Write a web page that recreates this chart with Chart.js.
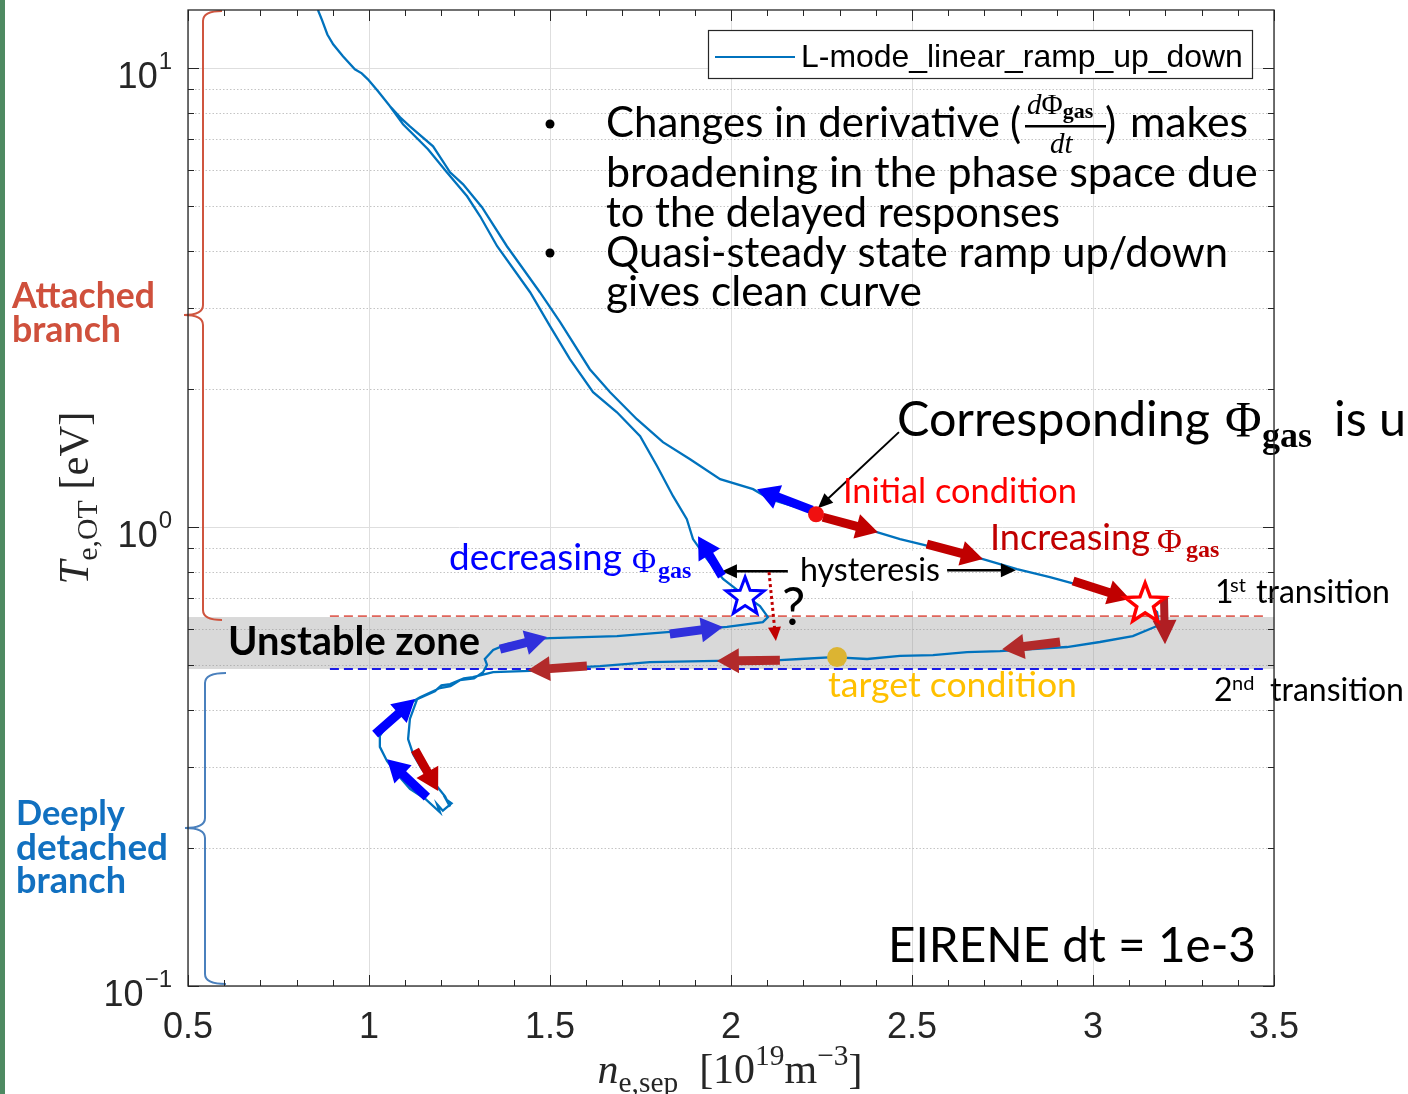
<!DOCTYPE html>
<html>
<head>
<meta charset="utf-8">
<title>Te,OT vs ne,sep hysteresis</title>
<script src="https://cdn.jsdelivr.net/npm/chart.js@4.4.1/dist/chart.umd.min.js"></script>
<style>
  html, body { margin: 0; padding: 0; background: #ffffff; }
  #wrap { width: 1408px; height: 1094px; position: relative; }
</style>
</head>
<body>
<div id="wrap"><canvas id="c" width="1408" height="1094"></canvas></div>
<script>
// ---- trajectory in (n_e,sep [1e19 m^-3], T_e,OT [eV]), in time order, split by branch ----
const seriesName = 'L-mode_linear_ramp_up_down';

// attached branch coming down from high temperature to the initial condition
const descentNe = [0.859, 0.870, 0.885, 0.901, 0.928, 0.961, 0.980, 0.997, 1.025, 1.058, 1.086, 1.113, 1.177, 1.224, 1.260,
                   1.312, 1.381, 1.472, 1.528, 1.610, 1.666, 1.740, 1.812, 1.887, 1.970, 2.061, 2.108, 2.199];
const descentTe = [13.4, 12.75, 11.85, 11.28, 10.62, 9.95, 9.75, 9.463, 8.913, 8.264, 7.819, 7.475, 6.763, 5.935, 5.587,
                   4.980, 4.095, 3.251, 2.797, 2.209, 1.968, 1.719, 1.532, 1.406, 1.272, 1.210, 1.151, 1.094];

// increasing gas puff: initial condition to the 1st transition
const rampUpNe = [2.235, 2.329, 2.403, 2.467, 2.558, 2.696, 2.790, 2.881, 2.972, 3.066, 3.110, 3.157, 3.177, 3.180, 3.177];
const rampUpTe = [1.067, 1.015, 0.975, 0.942, 0.905, 0.852, 0.810, 0.778, 0.744, 0.715, 0.697, 0.673, 0.653, 0.631, 0.609];

// lower edge of the unstable zone, moving to lower density
const lowerNe = [3.110, 3.019, 2.928, 2.834, 2.743, 2.652, 2.558, 2.467, 2.376, 2.282, 2.191, 2.135, 1.961, 1.776, 1.638, 1.500, 1.445, 1.343];
const lowerTe = [0.579, 0.562, 0.548, 0.542, 0.537, 0.534, 0.526, 0.524, 0.516, 0.521, 0.516, 0.513, 0.511, 0.508, 0.498, 0.491, 0.486, 0.483];

// deeply detached loop
const detachedNe = [1.287, 1.262, 1.224, 1.200, 1.182, 1.133, 1.113, 1.108, 1.122, 1.146, 1.182, 1.210, 1.224, 1.213,
                    1.228, 1.204, 1.188, 1.196, 1.155, 1.113, 1.077, 1.050, 1.030, 1.030, 1.058, 1.094, 1.141, 1.196,
                    1.225, 1.251, 1.290, 1.315, 1.326, 1.320];
const detachedTe = [0.471, 0.468, 0.455, 0.452, 0.439, 0.422, 0.382, 0.345, 0.320, 0.297, 0.276, 0.259, 0.246, 0.255,
                    0.250, 0.241, 0.249, 0.239, 0.256, 0.269, 0.290, 0.309, 0.332, 0.351, 0.378, 0.405, 0.426, 0.446,
                    0.450, 0.464, 0.468, 0.483, 0.501, 0.516];

// upper edge of the unstable zone, moving to higher density
const upperNe = [1.343, 1.381, 1.453, 1.500, 1.685, 1.867, 1.989, 2.088, 2.102];
const upperTe = [0.540, 0.556, 0.570, 0.573, 0.579, 0.594, 0.606, 0.621, 0.637];

// decreasing gas puff: back up the attached branch
const returnNe = [2.080, 2.025, 1.978, 1.934, 1.895, 1.878, 1.840, 1.796, 1.749, 1.685, 1.619, 1.555, 1.500,
                  1.445, 1.354, 1.307, 1.271, 1.215, 1.163, 1.094, 1.058];
const returnTe = [0.673, 0.722, 0.771, 0.852, 0.942, 1.041, 1.168, 1.358, 1.579, 1.780, 1.968, 2.323, 2.742,
                  3.251, 4.095, 4.760, 5.262, 5.935, 6.662, 7.551, 8.264];

// axes
const xTickLabels = ['0.5', '1', '1.5', '2', '2.5', '3', '3.5'];
const yDecades = [0.1, 1, 10];
const yDecadeExponents = ['\u22121', '0', '1'];
const yTickValues = [0.1, 0.2, 0.3, 0.4, 0.5, 0.6, 0.7, 0.8, 0.9, 1, 2, 3, 4, 5, 6, 7, 8, 9, 10];

// markers on the trajectory
const initialCondition = [2.235, 1.067];
const targetCondition = [2.293, 0.521];
const firstTransitionStar = [3.144, 0.680];
const returnStar = [2.039, 0.704];
const firstTransitionTe = 0.640;
const secondTransitionTe = 0.4907;
const unstableZone = [0.4907, 0.637];

// ---- build the single series ----
const segments = [[descentNe, descentTe], [rampUpNe, rampUpTe], [lowerNe, lowerTe],
                  [detachedNe, detachedTe], [upperNe, upperTe], [returnNe, returnTe]];
const points = [];
segments.forEach(([xs, ys]) => xs.forEach((v, i) => points.push({ x: v, y: ys[i] })));

const SANS = '"Lato", "Open Sans", sans-serif';
const HELV = '"Liberation Sans", Arial, sans-serif';
const SERIF = '"Liberation Serif", "DejaVu Serif", serif';
const AXIS_COLOR = '#262626';

function isDecade(v) { return Math.abs(Math.log10(v) - Math.round(Math.log10(v))) < 1e-9; }

function setFont(c, size, family, weight, style) {
  c.font = `${style || 'normal'} ${weight || 400} ${size}px ${family}`;
}
// text fitted to a horizontal extent
function fitText(c, text, x, y, width, family, weight, color) {
  setFont(c, 100, family, weight);
  const size = 100 * width / c.measureText(text).width;
  setFont(c, size, family, weight);
  c.fillStyle = color; c.textAlign = 'left'; c.textBaseline = 'alphabetic';
  c.fillText(text, x, y);
  return size;
}
function text(c, t, x, y, size, family, weight, color, style, align) {
  setFont(c, size, family, weight, style);
  c.fillStyle = color; c.textAlign = align || 'left'; c.textBaseline = 'alphabetic';
  c.fillText(t, x, y);
}
// runs of text with sub/superscripts
function runsWidth(c, runs) {
  let w = 0;
  runs.forEach(r => { setFont(c, r.size, r.family, r.weight, r.style); w += c.measureText(r.t).width; });
  return w;
}
function drawRuns(c, runs, x, y, color) {
  let cx = x;
  c.textAlign = 'left'; c.textBaseline = 'alphabetic'; c.fillStyle = color;
  runs.forEach(r => {
    setFont(c, r.size, r.family, r.weight, r.style);
    c.fillText(r.t, cx, y + (r.dy || 0));
    cx += c.measureText(r.t).width;
  });
}
function blockArrow(c, p0, p1, color, sw, hw, hl) {
  sw = sw || 9; hw = hw || 25; hl = hl || 22;
  const dx = p1[0] - p0[0], dy = p1[1] - p0[1], L = Math.hypot(dx, dy);
  const ux = dx / L, uy = dy / L, nx = -uy, ny = ux;
  const bx = p1[0] - ux * hl, by = p1[1] - uy * hl;
  c.beginPath();
  c.moveTo(p0[0] + nx * sw / 2, p0[1] + ny * sw / 2);
  c.lineTo(bx + nx * sw / 2, by + ny * sw / 2);
  c.lineTo(bx + nx * hw / 2, by + ny * hw / 2);
  c.lineTo(p1[0], p1[1]);
  c.lineTo(bx - nx * hw / 2, by - ny * hw / 2);
  c.lineTo(bx - nx * sw / 2, by - ny * sw / 2);
  c.lineTo(p0[0] - nx * sw / 2, p0[1] - ny * sw / 2);
  c.closePath();
  c.fillStyle = color; c.fill();
}
function lineArrow(c, p0, p1, color, lw, hl, hw, dash) {
  const dx = p1[0] - p0[0], dy = p1[1] - p0[1], L = Math.hypot(dx, dy);
  const ux = dx / L, uy = dy / L, nx = -uy, ny = ux;
  const bx = p1[0] - ux * hl, by = p1[1] - uy * hl;
  c.save();
  c.strokeStyle = color; c.lineWidth = lw; c.setLineDash(dash || []);
  c.beginPath(); c.moveTo(p0[0], p0[1]); c.lineTo(bx + ux * 2, by + uy * 2); c.stroke();
  c.restore();
  c.beginPath();
  c.moveTo(p1[0], p1[1]);
  c.lineTo(bx + nx * hw / 2, by + ny * hw / 2);
  c.lineTo(bx - nx * hw / 2, by - ny * hw / 2);
  c.closePath(); c.fillStyle = color; c.fill();
}
function star(c, cx, cy, R, stroke, lw) {
  c.beginPath();
  for (let i = 0; i < 10; i++) {
    const a = -Math.PI / 2 + i * Math.PI / 5;
    const rad = i % 2 ? R * 0.42 : R;
    c.lineTo(cx + rad * Math.cos(a), cy + rad * Math.sin(a));
  }
  c.closePath();
  c.fillStyle = '#ffffff'; c.fill();
  c.strokeStyle = stroke; c.lineWidth = lw; c.lineJoin = 'miter'; c.stroke();
}
function brace(c, xe, xv, xTip, yTop, yMid, yBot, color) {
  const r = 10;
  c.beginPath();
  c.moveTo(xe, yTop);
  c.quadraticCurveTo(xv, yTop, xv, yTop + r);
  c.lineTo(xv, yMid - r);
  c.quadraticCurveTo(xv, yMid, xTip, yMid);
  c.quadraticCurveTo(xv, yMid, xv, yMid + r);
  c.lineTo(xv, yBot - r);
  c.quadraticCurveTo(xv, yBot, xe, yBot);
  c.strokeStyle = color; c.lineWidth = 2; c.stroke();
}

const plotNotes = {
  id: 'plotNotes',
  beforeDraw(chart) {
    const c = chart.ctx;
    c.save();
    c.fillStyle = '#ffffff'; c.fillRect(0, 0, chart.width, chart.height);
    c.fillStyle = '#4e8a62'; c.fillRect(0, 0, 5, chart.height);
    c.restore();
  },
  beforeDatasetsDraw(chart) {
    const c = chart.ctx, a = chart.chartArea, xs = chart.scales.x, ys = chart.scales.y;
    c.save();
    // dotted minor grid on the log axis
    c.strokeStyle = '#c4c4c4'; c.lineWidth = 1; c.setLineDash([1.5, 2]);
    ys.ticks.forEach(t => {
      if (isDecade(t.value)) return;
      const y = Math.round(ys.getPixelForValue(t.value)) + 0.5;
      c.beginPath(); c.moveTo(a.left, y); c.lineTo(a.right, y); c.stroke();
    });
    c.setLineDash([]);
    // unstable zone
    const yb0 = ys.getPixelForValue(unstableZone[0]), yb1 = ys.getPixelForValue(unstableZone[1]);
    c.fillStyle = 'rgba(150,150,150,0.36)';
    c.fillRect(a.left, yb1, a.right - a.left, yb0 - yb1);
    // transition thresholds
    const xl = xs.getPixelForValue(0.892), xr = xs.getPixelForValue(3.47);
    c.lineWidth = 1.6; c.setLineDash([9, 5]);
    c.strokeStyle = '#e0645a';
    let y = ys.getPixelForValue(firstTransitionTe);
    c.beginPath(); c.moveTo(xl, y); c.lineTo(xr, y); c.stroke();
    c.strokeStyle = '#1a1ae6'; c.lineWidth = 2;
    y = ys.getPixelForValue(secondTransitionTe);
    c.beginPath(); c.moveTo(xl, y); c.lineTo(xr, y); c.stroke();
    c.restore();
  },
  afterDatasetsDraw(chart) {
    const c = chart.ctx, a = chart.chartArea, xs = chart.scales.x, ys = chart.scales.y;
    const P = (x, y) => [xs.getPixelForValue(x), ys.getPixelForValue(y)];
    c.save();

    // legend
    c.fillStyle = '#ffffff'; c.fillRect(708, 30, 544, 48);
    c.strokeStyle = AXIS_COLOR; c.lineWidth = 1.2; c.strokeRect(708.5, 30.5, 544, 48);
    const ds = chart.data.datasets[0];
    c.strokeStyle = ds.borderColor; c.lineWidth = 2;
    c.beginPath(); c.moveTo(715, 57); c.lineTo(795, 57); c.stroke();
    fitText(c, ds.label, 801, 67, 442, HELV, 400, '#000000');

    // bullet notes
    c.fillStyle = '#000';
    [[550, 124], [550, 253]].forEach(([bx, by]) => { c.beginPath(); c.arc(bx, by, 4.5, 0, 2 * Math.PI); c.fill(); });
    fitText(c, 'Changes in derivative', 606, 137, 394, SANS, 400, '#000');
    text(c, '(', 1010, 138, 42, SANS, 400, '#000');
    text(c, ')', 1105, 138, 42, SANS, 400, '#000');
    fitText(c, 'makes', 1130, 137, 118, SANS, 400, '#000');
    // d(Phi_gas)/dt
    drawRuns(c, [
      { t: 'd', size: 29, family: SERIF, style: 'italic' },
      { t: '\u03A6', size: 29, family: SERIF },
      { t: 'gas', size: 22, family: SERIF, weight: 700, dy: 4 }
    ], 1027, 114, '#000');
    c.fillRect(1025, 125, 81, 2.5);
    drawRuns(c, [{ t: 'dt', size: 29, family: SERIF, style: 'italic' }], 1050, 153, '#000');
    fitText(c, 'broadening in the phase space due', 606, 187, 652, SANS, 400, '#000');
    fitText(c, 'to the delayed responses', 606, 227, 454, SANS, 400, '#000');
    fitText(c, 'Quasi-steady state ramp up/down', 606, 267, 622, SANS, 400, '#000');
    fitText(c, 'gives clean curve', 606, 306, 316, SANS, 400, '#000');

    // hysteresis label and arrows
    c.fillStyle = '#ffffff'; c.fillRect(790, 551, 156, 40);
    fitText(c, 'hysteresis', 800, 581, 140, SANS, 400, '#000');
    lineArrow(c, P(2.157, 0.802), P(1.975, 0.802), '#000', 2.5, 15, 14);
    lineArrow(c, P(2.597, 0.806), P(2.787, 0.806), '#000', 2.5, 15, 14);
    // uncertain drop from the return branch
    lineArrow(c, P(2.105, 0.798), P(2.124, 0.5647), '#c00000', 3, 14, 13, [3, 3]);
    text(c, '?', 782, 625, 52, SANS, 400, '#000');

    // pointer from the note to the initial condition
    lineArrow(c, P(2.464, 1.611), P(2.240, 1.100), '#000', 2, 15, 13);

    // direction arrows along the trajectory
    const DEC = '#0000ff', DEC2 = '#3030dc', INC = '#c00000', INC2 = '#b22a2a';
    blockArrow(c, P(2.224, 1.089), P(2.072, 1.210), DEC);
    blockArrow(c, P(2.254, 1.051), P(2.406, 0.975), INC);
    blockArrow(c, P(2.541, 0.918), P(2.696, 0.852), INC);
    blockArrow(c, P(2.945, 0.763), P(3.102, 0.697), INC);
    blockArrow(c, P(3.196, 0.708), P(3.199, 0.556), '#b01e23', 8, 24, 24);
    blockArrow(c, P(2.909, 0.562), P(2.749, 0.542), INC2);
    blockArrow(c, P(2.135, 0.513), P(1.961, 0.511), INC2);
    blockArrow(c, P(1.602, 0.498), P(1.439, 0.488), INC2);
    blockArrow(c, P(1.362, 0.542), P(1.492, 0.576), DEC2);
    blockArrow(c, P(1.831, 0.585), P(1.978, 0.606), DEC2);
    blockArrow(c, P(1.975, 0.782), P(1.909, 0.956), DEC);
    blockArrow(c, P(1.017, 0.354), P(1.127, 0.422), DEC);
    blockArrow(c, P(1.160, 0.258), P(1.050, 0.312), DEC);
    blockArrow(c, P(1.127, 0.327), P(1.191, 0.266), INC);

    // markers
    let p = P(initialCondition[0], initialCondition[1]);
    c.fillStyle = '#f01010'; c.beginPath(); c.arc(p[0], p[1], 8, 0, 2 * Math.PI); c.fill();
    p = P(targetCondition[0], targetCondition[1]);
    c.fillStyle = '#dcb432'; c.beginPath(); c.arc(p[0], p[1], 10, 0, 2 * Math.PI); c.fill();
    p = P(returnStar[0], returnStar[1]); star(c, p[0], p[1], 20, '#0000ff', 3);
    p = P(firstTransitionStar[0], firstTransitionStar[1]); star(c, p[0], p[1], 21, '#ff0000', 3.5);

    // annotations
    const cs = fitText(c, 'Corresponding', 897, 436, 313, SANS, 400, '#000');
    text(c, '\u03A6', 1225, 436, 50, SERIF, 400, '#000');
    text(c, 'gas', 1262, 447, 36, SERIF, 700, '#000');
    text(c, 'is u', 1334, 436, cs, SANS, 400, '#000');

    fitText(c, 'Initial condition', 843, 503, 234, SANS, 400, '#ff0000');
    fitText(c, 'Increasing', 990, 550, 160, SANS, 400, '#c00000');
    text(c, '\u03A6', 1157, 552, 34, SERIF, 400, '#c00000');
    text(c, 'gas', 1186, 557, 24, SERIF, 700, '#c00000');
    fitText(c, 'decreasing', 449, 570, 173, SANS, 400, '#0000ff');
    text(c, '\u03A6', 632, 572, 33, SERIF, 400, '#0000ff');
    text(c, 'gas', 658, 578, 24, SERIF, 700, '#0000ff');
    fitText(c, 'target condition', 828, 697, 249, SANS, 400, '#ffc000');
    fitText(c, 'Unstable zone', 228, 655, 252, SANS, 700, '#000');
    fitText(c, 'EIRENE dt = 1e-3', 888, 962, 368, SANS, 400, '#000');

    text(c, '1', 1215, 603, 32, SANS, 400, '#000');
    text(c, 'st', 1230, 592, 20, SANS, 400, '#000');
    fitText(c, 'transition', 1256, 603, 134, SANS, 400, '#000');
    text(c, '2', 1214, 701, 32, SANS, 400, '#000');
    text(c, 'nd', 1232, 690, 20, SANS, 400, '#000');
    fitText(c, 'transition', 1270, 701, 134, SANS, 400, '#000');

    // branch braces and labels
    brace(c, 222, 203, 184, 11, 315, 620, '#cf553f');
    brace(c, 226, 205, 185, 673, 828, 984, '#4a80bd');
    fitText(c, 'Attached', 12, 308, 143, SANS, 700, '#cf503c');
    fitText(c, 'branch', 12, 342, 109, SANS, 700, '#cf503c');
    fitText(c, 'Deeply', 16, 825, 109, SANS, 700, '#1170c0');
    fitText(c, 'detached', 16, 860, 152, SANS, 700, '#1170c0');
    fitText(c, 'branch', 16, 893, 110, SANS, 700, '#1170c0');

    // axes box and inward ticks
    c.strokeStyle = AXIS_COLOR; c.lineWidth = 1;
    const xt = xs.ticks.map(t => t.value);
    const xMinor = [];
    for (let i = 0; i < xt.length - 1; i++) for (let k = 1; k < 5; k++) xMinor.push(xt[i] + (xt[i + 1] - xt[i]) * k / 5);
    const tick = (x0, y0, x1, y1) => { c.beginPath(); c.moveTo(x0, y0); c.lineTo(x1, y1); c.stroke(); };
    xt.forEach(v => { const x = Math.round(xs.getPixelForValue(v)) + 0.5; tick(x, a.bottom, x, a.bottom - 11); tick(x, a.top, x, a.top + 11); });
    xMinor.forEach(v => { const x = Math.round(xs.getPixelForValue(v)) + 0.5; tick(x, a.bottom, x, a.bottom - 6); tick(x, a.top, x, a.top + 6); });
    ys.ticks.forEach(t => {
      const y = Math.round(ys.getPixelForValue(t.value)) + 0.5, L = isDecade(t.value) ? 11 : 6;
      tick(a.left, y, a.left + L, y); tick(a.right, y, a.right - L, y);
    });
    c.lineWidth = 1.3;
    c.strokeRect(a.left, a.top, a.right - a.left, a.bottom - a.top);

    // decade labels on the log axis
    yDecades.forEach((v, i) => {
      const y = ys.getPixelForValue(v);
      setFont(c, 24, HELV); const ew = c.measureText(yDecadeExponents[i]).width;
      text(c, yDecadeExponents[i], 172, y + 1, 24, HELV, 400, AXIS_COLOR, 'normal', 'right');
      text(c, '10', 172 - ew - 1, y + 20, 36, HELV, 400, AXIS_COLOR, 'normal', 'right');
    });

    // axis titles
    const xRuns = [
      { t: 'n', size: 1, family: SERIF, style: 'italic' },
      { t: 'e,sep', size: 0.7, family: SERIF, dy: 0.22 },
      { t: '  [10', size: 1, family: SERIF },
      { t: '19', size: 0.7, family: SERIF, dy: -0.42 },
      { t: 'm', size: 1, family: SERIF },
      { t: '\u22123', size: 0.7, family: SERIF, dy: -0.42 },
      { t: ']', size: 1, family: SERIF }
    ];
    const scaleRuns = (runs, base) => runs.map(r => Object.assign({}, r, { size: r.size * base, dy: (r.dy || 0) * base }));
    let base = 100 * 265 / runsWidth(c, scaleRuns(xRuns, 100));
    let rs = scaleRuns(xRuns, base);
    drawRuns(c, rs, 730 - runsWidth(c, rs) / 2, 1083, AXIS_COLOR);

    const yRuns = [
      { t: 'T', size: 1, family: SERIF, style: 'italic' },
      { t: 'e,OT', size: 0.7, family: SERIF, dy: 0.22 },
      { t: ' [eV]', size: 1, family: SERIF }
    ];
    base = 100 * 173 / runsWidth(c, scaleRuns(yRuns, 100));
    rs = scaleRuns(yRuns, base);
    c.translate(88, 498); c.rotate(-Math.PI / 2);
    drawRuns(c, rs, -runsWidth(c, rs) / 2, 0, AXIS_COLOR);
    c.restore();
  }
};

new Chart(document.getElementById('c'), {
  type: 'scatter',
  data: {
    datasets: [{
      label: seriesName,
      data: points,
      showLine: true,
      borderColor: '#0072BD',
      borderWidth: 2.3,
      pointRadius: 0,
      pointHoverRadius: 0,
      tension: 0,
      fill: false
    }]
  },
  options: {
    responsive: false,
    animation: false,
    events: [],
    layout: { padding: { top: 10, right: 134, left: 0, bottom: 0 } },
    plugins: { legend: { display: false }, tooltip: { enabled: false } },
    scales: {
      x: {
        type: 'linear', min: 0.5, max: 3.5,
        afterFit: s => { s.height = 108; },
        ticks: {
          stepSize: 0.5, autoSkip: false, maxRotation: 0, padding: 20,
          font: { family: 'Liberation Sans', size: 36 }, color: AXIS_COLOR,
          callback: (v, i) => xTickLabels[i]
        },
        grid: { color: '#dedede', lineWidth: 1, drawTicks: false },
        border: { display: false }
      },
      y: {
        type: 'logarithmic', min: 0.1, max: 13.4,
        afterFit: s => { s.width = 188; },
        afterBuildTicks: s => { s.ticks = yTickValues.map(v => ({ value: v })); },
        ticks: { display: false },
        grid: { color: ctx => (ctx.tick && isDecade(ctx.tick.value)) ? '#dedede' : 'rgba(0,0,0,0)', lineWidth: 1, drawTicks: false },
        border: { display: false }
      }
    }
  },
  plugins: [plotNotes]
});
</script>
</body>
</html>
